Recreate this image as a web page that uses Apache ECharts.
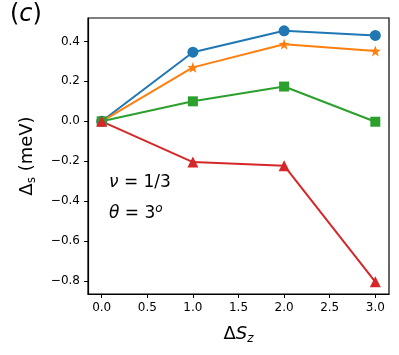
<!DOCTYPE html>
<html>
<head>
<meta charset="utf-8">
<script src="https://cdn.jsdelivr.net/npm/echarts@6/dist/echarts.min.js"></script>
<style>
  html, body { margin: 0; padding: 0; background: #fff; }
  #chart { width: 399px; height: 355px; }
</style>
</head>
<body>
<div id="chart"></div>
<script>
// data
const dSz = [0, 1, 2, 3]
const blueVals = [0, 0.346, 0.453, 0.43]
const orangeVals = [0, 0.27, 0.386, 0.352]
const greenVals = [0, 0.10, 0.174, -0.002]
const redVals = [0, -0.204, -0.222, -0.803]
const xTicks = [0, 0.5, 1, 1.5, 2, 2.5, 3]
const yTicks = [-0.8, -0.6, -0.4, -0.2, 0, 0.2, 0.4]

const font = "DejaVu Sans"

function pairs(vals) {
  return dSz.map((x, i) => [x, vals[i]])
}

function line(vals, color, symbol, size) {
  return {
    type: "line",
    data: pairs(vals),
    symbol: symbol,
    symbolSize: size,
    showAllSymbol: true,
    clip: false,
    lineStyle: { color: color, width: 2 },
    itemStyle: { color: color },
    emphasis: { disabled: true }
  }
}

const chart = echarts.init(document.getElementById("chart"))

chart.setOption({
  animation: false,
  grid: {
    left: 88, right: 10, top: 18, bottom: 61,
    show: true, borderColor: "#000", borderWidth: 1.2, backgroundColor: "transparent"
  },
  xAxis: {
    type: "value",
    min: -0.15,
    max: 3.15,
    name: "{d|Δ}{it|S}{sub|z}",
    nameLocation: "middle",
    nameGap: 29,
    nameTextStyle: {
      verticalAlign: "top",
      rich: {
        d: { fontFamily: font, fontSize: 18, color: "#000" },
        it: { fontFamily: font, fontSize: 18, fontStyle: "italic", color: "#000" },
        sub: { fontFamily: font, fontSize: 12, fontStyle: "italic", color: "#000", padding: [10, 0, 0, 0] }
      }
    },
    axisLine: { show: true, onZero: false, lineStyle: { color: "#000", width: 1.2 } },
    axisTick: { show: true, length: 4, lineStyle: { color: "#000" }, customValues: xTicks },
    axisLabel: {
      customValues: xTicks,
      margin: 8,
      fontFamily: font, fontSize: 12, color: "#000",
      formatter: v => v.toFixed(1)
    },
    splitLine: { show: false }
  },
  yAxis: {
    type: "value",
    min: -0.864,
    max: 0.517,
    name: "{d|Δ}{sub|s}{d| (meV)}",
    nameLocation: "middle",
    nameRotate: 90,
    nameGap: 50,
    nameTextStyle: {
      rich: {
        d: { fontFamily: font, fontSize: 18, color: "#000" },
        sub: { fontFamily: font, fontSize: 12, color: "#000", padding: [10, 0, 0, 0] }
      }
    },
    axisLine: { show: true, onZero: false, lineStyle: { color: "#000", width: 1.2 } },
    axisTick: { show: true, length: 4, lineStyle: { color: "#000" }, customValues: yTicks },
    axisLabel: {
      customValues: yTicks,
      margin: 8,
      fontFamily: font, fontSize: 12, color: "#000",
      formatter: v => v.toFixed(1).replace("-", "\u2212")
    },
    splitLine: { show: false }
  },
  series: [
    line(blueVals, "#1f77b4", "circle", 11),
    line(orangeVals, "#ff7f0e", "path://M0,-10 L2.35,-3.24 L9.51,-3.09 L3.8,1.24 L5.88,8.09 L0,4 L-5.88,8.09 L-3.8,1.24 L-9.51,-3.09 L-2.35,-3.24 Z", 11),
    line(greenVals, "#2ca02c", "rect", 10),
    line(redVals, "#d62728", "triangle", 11)
  ],
  graphic: [
    {
      type: "text", left: 10, top: 3,
      style: {
        text: "{p|(}{i|c}{p|)}",
        rich: {
          p: { fontFamily: font, fontSize: 24, fill: "#000" },
          i: { fontFamily: font, fontSize: 24, fontStyle: "italic", fill: "#000" }
        }
      }
    },
    {
      type: "text", left: 109, top: 174,
      style: {
        text: "{i|ν}{n| = 1/3}",
        rich: {
          i: { fontFamily: font, fontSize: 17, fontStyle: "italic", fill: "#000" },
          n: { fontFamily: font, fontSize: 17, fill: "#000" }
        }
      }
    },
    {
      type: "text", left: 109, top: 203,
      style: {
        text: "{i|θ}{n| = 3}{sup|o}",
        rich: {
          i: { fontFamily: font, fontSize: 17, fontStyle: "italic", fill: "#000" },
          n: { fontFamily: font, fontSize: 17, fill: "#000" },
          sup: { fontFamily: font, fontSize: 12, fontStyle: "italic", fill: "#000", padding: [0, 0, 10, 0] }
        }
      }
    }
  ]
})
</script>
</body>
</html>
